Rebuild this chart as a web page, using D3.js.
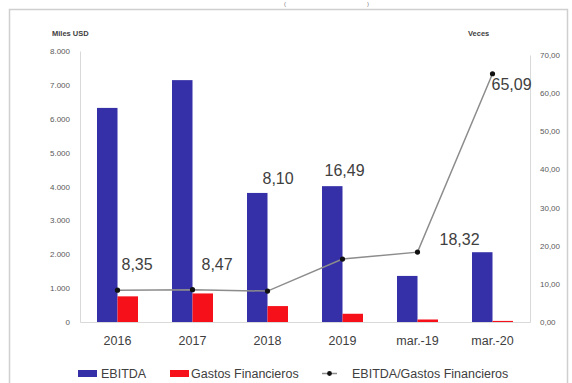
<!DOCTYPE html>
<html><head><meta charset="utf-8">
<script src="https://cdn.jsdelivr.net/npm/d3@7/dist/d3.min.js"></script>
<style>
html,body{margin:0;padding:0;background:#fff;}
svg{display:block;}
text{font-family:"Liberation Sans Narrow","Liberation Sans",Arial,sans-serif;}
</style></head>
<body><svg id="c" width="572" height="383"></svg>
<script>
const categories = ["2016","2017","2018","2019","mar.-19","mar.-20"];
const ebitda = [6320, 7140, 3810, 4010, 1360, 2060];
const gastos = [757, 843, 470, 243, 74, 32];
const ratio = [8.35, 8.47, 8.10, 16.49, 18.32, 65.09];
const leftTicks = [0,1000,2000,3000,4000,5000,6000,7000,8000];
const rightTicks = [0,10,20,30,40,50,60,70];
const seriesNames = ["EBITDA","Gastos Financieros","EBITDA/Gastos Financieros"];

// layout (label offsets from point, px)
const labelOffsets = [[4,-20],[9,-20],[-5,-107],[-18,-83],[22,-7],[-1,16]];

const svg = d3.select("#c");
const blue = "#3530a8", red = "#f5101a";

// frame
svg.append("rect").attr("x",9.5).attr("y",9.5).attr("width",558).attr("height",380)
  .attr("fill","none").attr("stroke","#cfcfcf").attr("stroke-width",1.5);
// title remnant parentheses
svg.append("text").attr("x",284).attr("y",6).attr("font-size",6).attr("fill","#777").text("(");
svg.append("text").attr("x",367).attr("y",6).attr("font-size",6).attr("fill","#777").text(")");

const x = d3.scaleBand().domain(categories).range([80,530]).padding(0);
const yL = d3.scaleLinear().domain([0,8000]).range([322,51]);
const yR = d3.scaleLinear().domain([0,70]).range([322,55]);
const bw = 20.5;

// axes
const fmtL = d => d===0 ? "0" : d3.format(",")(d).replace(/,/g,".");
const fmtR = d => d.toFixed(2).replace(".",",");
const gL = svg.append("g").attr("transform","translate(80,0)")
  .call(d3.axisLeft(yL).tickValues(leftTicks).tickFormat(fmtL).tickSize(0).tickPadding(10));
const gR = svg.append("g").attr("transform","translate(530,0)")
  .call(d3.axisRight(yR).tickValues(rightTicks).tickFormat(fmtR).tickSize(0).tickPadding(10));
[gL,gR].forEach(g=>{
  g.select(".domain").attr("stroke","#d9d9d9");
  g.selectAll("text").attr("font-size",8).attr("fill","#595959").attr("font-family","'Liberation Sans Narrow','Liberation Sans',Arial,sans-serif");
});
const gX = svg.append("g").attr("transform","translate(0,322)")
  .call(d3.axisBottom(x).tickSize(0).tickPadding(14));
gX.select(".domain").attr("stroke","#d9d9d9");
gX.selectAll("text").attr("font-size",12.5).attr("fill","#404040").attr("font-family","'Liberation Sans Narrow','Liberation Sans',Arial,sans-serif");

svg.append("text").attr("x",52).attr("y",36).attr("font-size",7.5).attr("font-weight","bold").attr("fill","#404040").text("Miles USD");
svg.append("text").attr("x",468).attr("y",36).attr("font-size",7.5).attr("font-weight","bold").attr("fill","#404040").text("Veces");

const cx = d => x(d) + x.bandwidth()/2;

svg.append("g").selectAll("rect").data(categories).join("rect")
  .attr("x",(d)=>cx(d)-bw).attr("width",bw)
  .attr("y",(d,i)=>yL(ebitda[i])).attr("height",(d,i)=>yL(0)-yL(ebitda[i]))
  .attr("fill",blue);
svg.append("g").selectAll("rect").data(categories).join("rect")
  .attr("x",(d)=>cx(d)).attr("width",bw)
  .attr("y",(d,i)=>yL(gastos[i])).attr("height",(d,i)=>yL(0)-yL(gastos[i]))
  .attr("fill",red);

const line = d3.line().x((d,i)=>cx(categories[i])).y(d=>yR(d));
svg.append("path").attr("d",line(ratio)).attr("fill","none").attr("stroke","#8c8c8c").attr("stroke-width",1.5);
svg.append("g").selectAll("circle").data(ratio).join("circle")
  .attr("cx",(d,i)=>cx(categories[i])).attr("cy",d=>yR(d)).attr("r",2.6).attr("fill","#111");

svg.append("g").selectAll("text").data(ratio).join("text")
  .attr("x",(d,i)=>cx(categories[i])+labelOffsets[i][0])
  .attr("y",(d,i)=>yR(d)+labelOffsets[i][1])
  .attr("font-size",16).attr("fill","#404040")
  .attr("font-family","'Liberation Sans Narrow','Liberation Sans',Arial,sans-serif")
  .text(d=>d.toFixed(2).replace(".",","));

// legend
const lg = svg.append("g").attr("font-size",12.5).attr("fill","#404040");
lg.append("rect").attr("x",78).attr("y",370).attr("width",19).attr("height",7).attr("fill",blue);
lg.append("text").attr("x",101).attr("y",378).text(seriesNames[0]);
lg.append("rect").attr("x",170).attr("y",370).attr("width",19).attr("height",7).attr("fill",red);
lg.append("text").attr("x",191).attr("y",378).text(seriesNames[1]);
lg.append("line").attr("x1",322).attr("x2",337).attr("y1",373.5).attr("y2",373.5).attr("stroke","#8c8c8c").attr("stroke-width",1.5);
lg.append("circle").attr("cx",329.5).attr("cy",373.5).attr("r",2.4).attr("fill","#111");
lg.append("text").attr("x",352).attr("y",378).text(seriesNames[2]);
</script></body></html>
